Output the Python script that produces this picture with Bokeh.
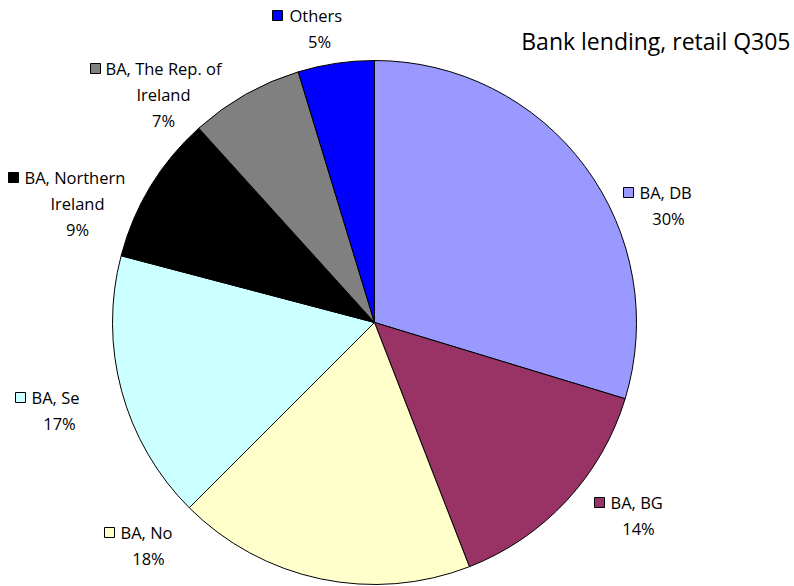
import math
from bokeh.plotting import figure
from bokeh.models import Range1d
from bokeh.core.properties import value
from bokeh.embed import file_html
from bokeh.resources import INLINE

# ---- data ----
names = ["BA, DB", "BA, BG", "BA, No", "BA, Se", "BA, Northern\nIreland", "BA, The Rep. of\nIreland", "Others"]
values = [29.7, 14.4, 18.4, 16.6, 9.2, 7.0, 4.7]
colors = ["#9999FF", "#993366", "#FFFFCC", "#CCFFFF", "#000000", "#808080", "#0000FF"]
title_text = "Bank lending, retail Q305"

# ---- layout ----
W, H = 794, 586
OX, OY = 0, 586  # image -> data conversion


def dx(x):
    return x - OX


def dy(y):
    return OY - y


FONT = "Open Sans"
FS = "16.5px"

p = figure(width=W, height=H, x_range=Range1d(0, W), y_range=Range1d(0, H),
           output_backend="svg", toolbar_location=None, min_border=0)
p.axis.visible = False
p.grid.visible = False
p.outline_line_color = None
p.background_fill_color = "white"

cx, cy, r = dx(374), dy(322), 262
total = sum(values)
starts, ends = [], []
cum = 0.0
for v in values:
    starts.append(math.pi / 2 - 2 * math.pi * cum / total)
    cum += v
    ends.append(math.pi / 2 - 2 * math.pi * cum / total)

p.wedge(x=[cx] * len(values), y=[cy] * len(values), radius=r, radius_units="screen",
        start_angle=starts, end_angle=ends, direction="clock",
        fill_color=colors, line_color="black", line_width=1)

# label layout (image px): square center, text left, other-lines center, first-line mid y
lay = [
    (628, 639, 668, 192),
    (599, 610, 638, 502),
    (109, 120, 148, 532),
    (20, 31, 59, 397),
    (13, 24, 77, 177),
    (95, 105, 163, 68),
    (277, 289, 319, 15),
]
LH = 26

for name, v, col, (sqx, tx, ccx, my) in zip(names, values, colors, lay):
    parts = name.split("\n")
    lines_after = parts[1:] + [f"{round(v)}%"]
    p.rect(x=[dx(sqx)], y=[dy(my)], width=10, height=10, width_units="screen", height_units="screen",
           fill_color=col, line_color="black", line_width=1)
    p.text(x=[dx(tx)], y=[dy(my)], text=[parts[0]], text_font=value(FONT), text_font_size=FS,
           text_align="left", text_baseline="middle", text_color="black")
    for i, t in enumerate(lines_after):
        p.text(x=[dx(ccx)], y=[dy(my + LH * (i + 1))], text=[t], text_font=value(FONT), text_font_size=FS,
               text_align="center", text_baseline="middle", text_color="black")

p.text(x=[dx(790)], y=[dy(40)], text=[title_text], text_font=value(FONT), text_font_size="23px",
       text_align="right", text_baseline="middle", text_color="black")

open("out.html", "w").write(file_html(p, INLINE))
